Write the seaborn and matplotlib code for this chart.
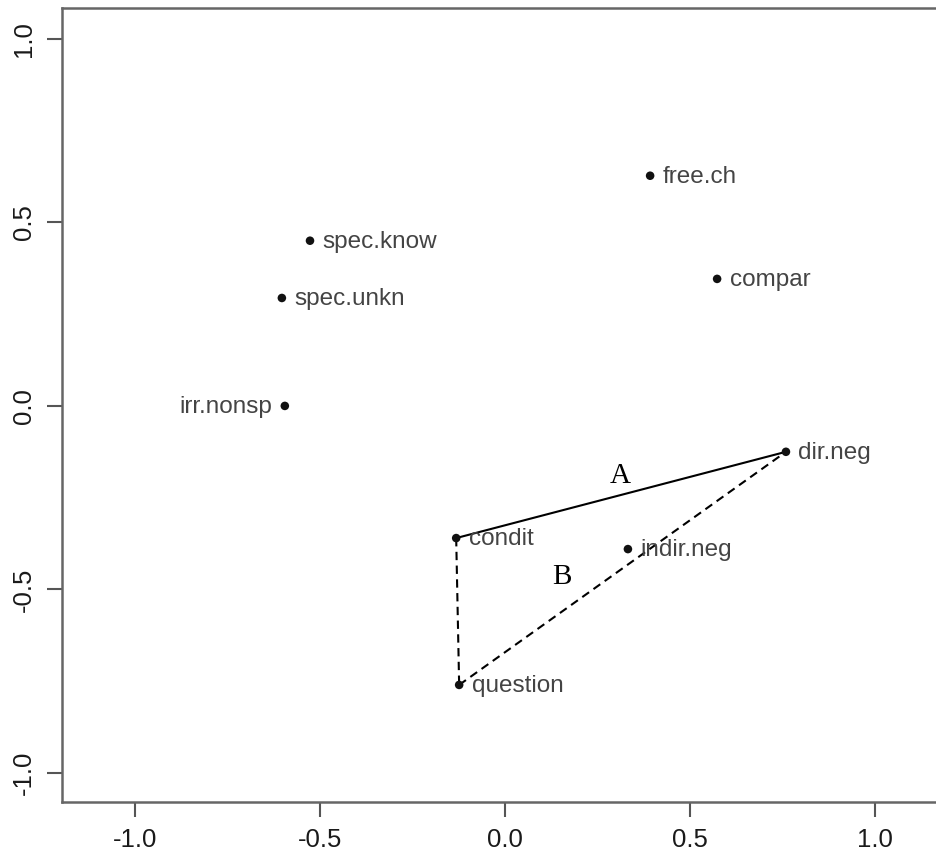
import numpy as np
import pandas as pd
import seaborn as sns
import matplotlib.pyplot as plt

# point coordinates
labels = ['free.ch', 'compar', 'spec.know', 'spec.unkn', 'irr.nonsp',
          'dir.neg', 'condit', 'indir.neg', 'question']
xs = [0.392, 0.573, -0.527, -0.603, -0.595, 0.759, -0.132, 0.332, -0.124]
ys = [0.627, 0.346, 0.450, 0.294, 0.000, -0.125, -0.360, -0.390, -0.760]
label_side = ['right', 'right', 'right', 'right', 'left',
              'right', 'right', 'right', 'right']

# connecting segments (from, to, style)
segments = [('condit', 'dir.neg', 'solid'),
            ('condit', 'question', 'dashed'),
            ('question', 'dir.neg', 'dashed')]
seg_labels = ['A', 'B']
seg_label_x = [0.311, 0.154]
seg_label_y = [-0.191, -0.466]

ticks = [-1.0, -0.5, 0.0, 0.5, 1.0]

df = pd.DataFrame({'label': labels, 'x': xs, 'y': ys, 'side': label_side})

sns.set_style('ticks')
plt.rcParams['font.family'] = ['Liberation Sans', 'DejaVu Sans']

fig = plt.figure(figsize=(9.37, 8.65), dpi=100)
ax = fig.add_axes([0.0662, 0.0728, 0.9456, 0.918])

pos = df.set_index('label')
for a, b, style in segments:
    ls = '-' if style == 'solid' else (0, (4, 2.6))
    ax.plot([pos.loc[a, 'x'], pos.loc[b, 'x']], [pos.loc[a, 'y'], pos.loc[b, 'y']],
            color='black', lw=1.5, linestyle=ls, zorder=2)

sns.scatterplot(data=df, x='x', y='y', ax=ax, color='#111111', s=38,
                edgecolor='none', zorder=3, legend=False)

for _, r in df.iterrows():
    if r['side'] == 'right':
        ax.annotate(r['label'], (r['x'], r['y']), xytext=(9, -1),
                    textcoords='offset points', ha='left', va='center',
                    fontsize=17.5, color='#444444')
    else:
        ax.annotate(r['label'], (r['x'], r['y']), xytext=(-9, -1),
                    textcoords='offset points', ha='right', va='center',
                    fontsize=17.5, color='#444444')

for t, tx, ty in zip(seg_labels, seg_label_x, seg_label_y):
    ax.text(tx, ty, t, fontsize=21, family='Liberation Serif',
            ha='center', va='center', color='black')

ax.set_xlim(-1.197, 1.197)
ax.set_ylim(-1.079, 1.084)
ax.set_xticks(ticks)
ax.set_yticks(ticks)
ax.set_xticklabels([f'{t:.1f}' for t in ticks])
ax.set_yticklabels([f'{t:.1f}' for t in ticks], rotation=90, va='center')
ax.set_xlabel('')
ax.set_ylabel('')
ax.tick_params(axis='both', labelsize=18.5, length=11, width=1.5,
               color='#555555', labelcolor='#1a1a1a', pad=8)
for sp in ax.spines.values():
    sp.set_color('#666666')
    sp.set_linewidth(1.8)

fig.savefig('out.png', dpi=100)
